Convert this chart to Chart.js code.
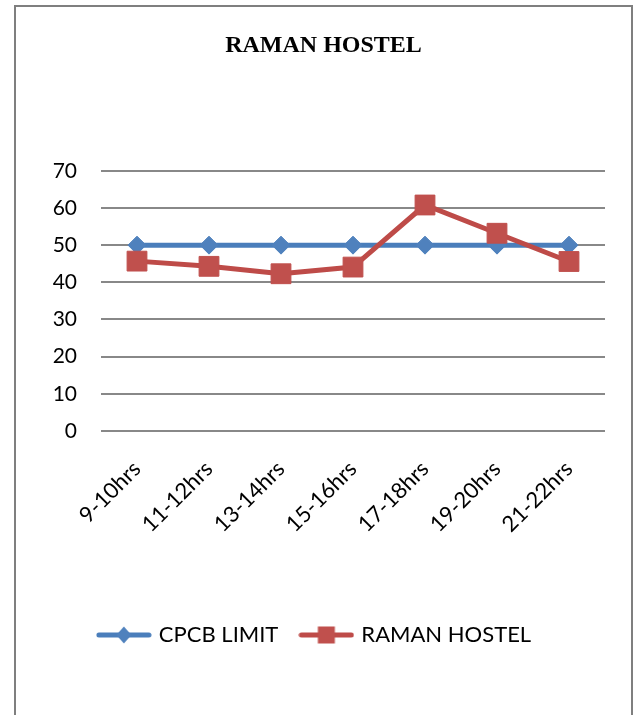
<!DOCTYPE html>
<html lang="en">
<head>
  <meta charset="UTF-8" />
  <title>RAMAN HOSTEL</title>
  <script src="https://cdn.jsdelivr.net/npm/chart.js"></script>
  <style>
    body { margin: 0; background: #fff; }
    .wrap { position: relative; width: 636px; height: 715px; overflow: hidden; }
    .frame {
      position: absolute; left: 14px; top: 5px; width: 615px; height: 760px;
      border: 2px solid #7f7f7f; border-bottom: none;
    }
    canvas { position: absolute; left: 0; top: 0; }
  </style>
</head>
<body>
  <div class="wrap">
    <div class="frame"></div>
    <canvas id="noiseChart" width="636" height="715"></canvas>
  </div>

  <script>
    const hours = ['9-10hrs', '11-12hrs', '13-14hrs', '15-16hrs', '17-18hrs', '19-20hrs', '21-22hrs'];
    const cpcbLimit = [50, 50, 50, 50, 50, 50, 50];
    const ramanHostel = [45.7, 44.3, 42.3, 44.1, 60.8, 53.2, 45.6];
    const yTicks = [0, 10, 20, 30, 40, 50, 60, 70];

    const BLUE_LINE = '#4a7ebb', BLUE_MARK = '#4f81bd';
    const RED_LINE = '#be4b48', RED_MARK = '#c0504d';

    // little "line + marker" swatch for the legend, like the spreadsheet one
    function legendSwatch(lineColor, markColor, shape) {
      const c = document.createElement('canvas');
      c.width = 56; c.height = 20;
      const g = c.getContext('2d');
      g.strokeStyle = lineColor;
      g.lineWidth = 5;
      g.lineCap = 'round';
      g.beginPath(); g.moveTo(3, 10); g.lineTo(53, 10); g.stroke();
      g.fillStyle = markColor;
      if (shape === 'diamond') {
        g.beginPath();
        g.moveTo(28, 1.5); g.lineTo(35.5, 10); g.lineTo(28, 18.5); g.lineTo(20.5, 10);
        g.closePath(); g.fill();
      } else {
        g.fillRect(19.5, 1.5, 17, 17);
      }
      return c;
    }

    const swatches = [
      legendSwatch(BLUE_LINE, BLUE_MARK, 'diamond'),
      legendSwatch(RED_LINE, RED_MARK, 'square')
    ];

    const shiftLegend = {
      id: 'shiftLegend',
      afterLayout(chart) {
        chart.legend.left -= 8;
        chart.legend.right -= 8;
      }
    };

    new Chart(document.getElementById('noiseChart').getContext('2d'), {
      type: 'line',
      data: {
        labels: hours,
        datasets: [{
          label: 'CPCB LIMIT',
          data: cpcbLimit,
          borderColor: BLUE_LINE,
          backgroundColor: BLUE_MARK,
          borderWidth: 5,
          pointStyle: 'rectRot',
          pointRadius: 9,
          pointBorderWidth: 1,
          pointBorderColor: BLUE_MARK,
          pointBackgroundColor: BLUE_MARK,
          tension: 0,
          order: 1
        }, {
          label: 'RAMAN HOSTEL',
          data: ramanHostel,
          borderColor: RED_LINE,
          backgroundColor: RED_MARK,
          borderWidth: 5,
          pointStyle: 'rect',
          pointRadius: 14,
          pointBorderWidth: 1,
          pointBorderColor: RED_MARK,
          pointBackgroundColor: RED_MARK,
          tension: 0,
          order: 0
        }]
      },
      options: {
        responsive: false,
        animation: false,
        events: [],
        layout: { padding: { top: 0, left: 42, right: 31, bottom: 59 } },
        scales: {
          x: {
            offset: true,
            grid: { display: false },
            border: { display: false },
            ticks: {
              color: '#000',
              font: { family: 'Lato', size: 22 },
              minRotation: 45,
              maxRotation: 45,
              padding: 17
            },
            afterFit(scale) { scale.height = 169; }
          },
          y: {
            min: 0,
            max: 70,
            afterBuildTicks(scale) { scale.ticks = yTicks.map(v => ({ value: v })); },
            grid: { color: '#888', lineWidth: 2, drawTicks: false },
            border: { display: false },
            ticks: {
              color: '#000',
              font: { family: 'Lato', size: 21 },
              padding: 24
            },
            afterFit(scale) { scale.width = 59; }
          }
        },
        plugins: {
          title: {
            display: true,
            text: 'RAMAN HOSTEL',
            color: '#000',
            font: { family: 'Liberation Serif', size: 24, weight: 'bold' },
            padding: { top: 31, bottom: 111 }
          },
          legend: {
            position: 'bottom',
            labels: {
              color: '#000',
              font: { family: 'Lato', size: 22 },
              usePointStyle: true,
              pointStyleWidth: 48,
              padding: 24,
              generateLabels(chart) {
                return chart.data.datasets.map((ds, i) => ({
                  text: ds.label,
                  pointStyle: swatches[i],
                  fillStyle: ds.backgroundColor,
                  strokeStyle: ds.borderColor,
                  lineWidth: 0,
                  hidden: false,
                  datasetIndex: i,
                  fontColor: '#000'
                }));
              }
            }
          },
          tooltip: { enabled: false }
        }
      },
      plugins: [shiftLegend]
    });
  </script>
</body>
</html>
